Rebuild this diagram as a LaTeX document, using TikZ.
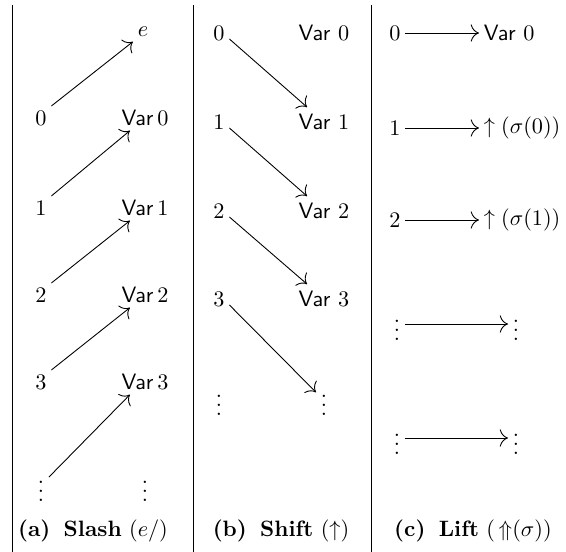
\documentclass[tikz,border=0pt]{standalone}
\usepackage{amsmath}
\usetikzlibrary{arrows.meta}
\begin{document}
\begin{tikzpicture}[x=0.45pt,y=-0.45pt,inner sep=2pt,>={Computer Modern Rightarrow[scale=1.5]}]
\useasboundingbox (0,0) rectangle (566,552);
\draw[black] (12,5) -- (12,552);
\draw[black] (193,5) -- (193,552);
\draw[black] (371,5) -- (371,552);
\node[black] (ae) at (143,32){$e$};
\node[black] (a0) at (41,118){$0$};
\node[black] (av0) at (145,118){$\mathsf{Var}\,0$};
\node[black] (a1) at (41,208){$1$};
\node[black] (av1) at (145,208){$\mathsf{Var}\,1$};
\node[black] (a2) at (41,295){$2$};
\node[black] (av2) at (145,295){$\mathsf{Var}\,2$};
\node[black] (a3) at (41,382){$3$};
\node[black] (av3) at (145,382){$\mathsf{Var}\,3$};
\node[black] (adots) at (41,485){$\vdots$};
\node[black] (avdots) at (145,485){$\vdots$};
\draw[black,->] (a0.north east) -- (ae.south west);
\draw[black,->] (a1.north east) -- ([xshift=6pt]av0.south west);
\draw[black,->] (a2.north east) -- ([xshift=6pt]av1.south west);
\draw[black,->] (a3.north east) -- ([xshift=6pt]av2.south west);
\draw[black,->] ([yshift=3.6pt]adots.east) -- ([xshift=6pt]av3.south west);
\node[black] (b0) at (219,33){$0$};
\node[black] (bv0) at (324,33){$\mathsf{Var}\ 0$};
\node[black] (b1) at (219,122){$1$};
\node[black] (bv1) at (324,122){$\mathsf{Var}\ 1$};
\node[black] (b2) at (219,211){$2$};
\node[black] (bv2) at (324,211){$\mathsf{Var}\ 2$};
\node[black] (b3) at (219,299){$3$};
\node[black] (bv3) at (324,299){$\mathsf{Var}\ 3$};
\node[black] (bdots) at (219,399){$\vdots$};
\node[black] (bvdots) at (324,399){$\vdots$};
\draw[black,->] (b0.-30) -- ([xshift=6pt,yshift=1pt]bv1.north west);
\draw[black,->] (b1.-30) -- ([xshift=6pt,yshift=1pt]bv2.north west);
\draw[black,->] (b2.-30) -- ([xshift=6pt,yshift=1pt]bv3.north west);
\draw[black,->] (b3.-30) -- ([yshift=3pt]bvdots.west);
\node[black] (c0) at (395,33){$0$};
\node[black,anchor=west] (cv0) at (479,33){$\mathsf{Var}\ 0$};
\node[black] (c1) at (395,128){$1$};
\node[black,anchor=west] (cv1) at (479,128){$\uparrow(\sigma(0))$};
\node[black] (c2) at (395,220){$2$};
\node[black,anchor=west] (cv2) at (479,220){$\uparrow(\sigma(1))$};
\node[black] (cdots0) at (397,324){$\vdots$};
\node[black] (cvdots0) at (516,324){$\vdots$};
\node[black] (cdots1) at (397,438){$\vdots$};
\node[black] (cvdots1) at (516,438){$\vdots$};
\draw[black,->] (c0) -- (cv0);
\draw[black,->] (c1) -- (cv1);
\draw[black,->] (c2) -- (cv2);
\draw[black,->] (cdots0) -- (cvdots0);
\draw[black,->] (cdots1) -- (cvdots1);
\node[black] (capa) at (93,531){\textbf{(a)}\hspace{0.6em}\textbf{Slash} $(e/)$};
\node[black] (capb) at (281,531){\textbf{(b)}\hspace{0.6em}\textbf{Shift} $(\uparrow)$};
\node[black] (capc) at (473,531){\textbf{(c)}\hspace{0.6em}\textbf{Lift} $(\,{\Uparrow}(\sigma))$};
\end{tikzpicture}
\end{document}
